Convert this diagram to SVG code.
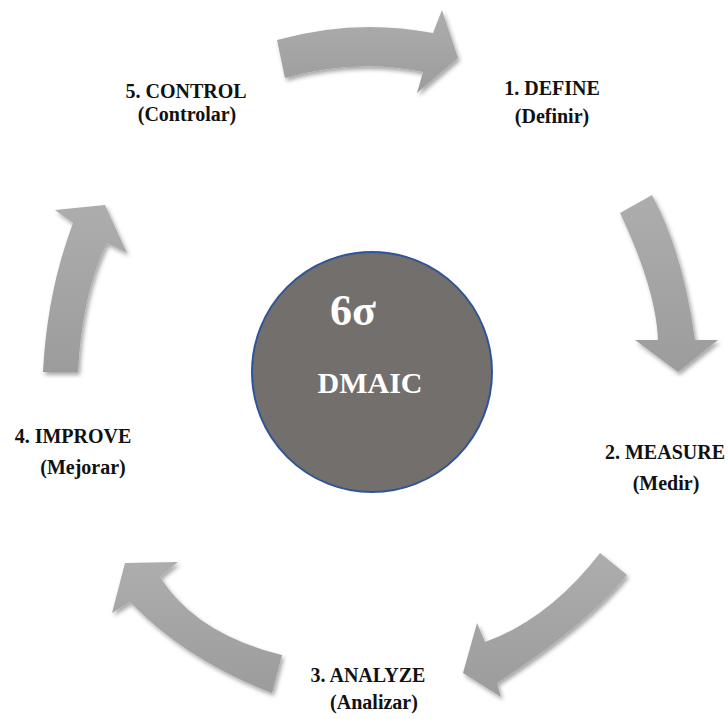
<svg xmlns="http://www.w3.org/2000/svg" width="728" height="719" viewBox="0 0 728 719">
  <style>
    .arrow { fill: url(#arrowFill); filter: url(#softShadow); }
    .label { font-family: "Liberation Serif", "DejaVu Serif", serif; font-weight: bold; font-size: 20px; fill: #111; text-anchor: middle; }
    .hub { font-family: "Liberation Serif", "DejaVu Serif", serif; font-weight: bold; fill: #fff; }
  </style>
  <defs>
    <linearGradient id="arrowFill" x1="0" y1="0" x2="0" y2="1">
      <stop offset="0" stop-color="#adadad"/>
      <stop offset="1" stop-color="#9c9c9c"/>
    </linearGradient>
    <filter id="softShadow" x="-20%" y="-20%" width="140%" height="140%">
      <feDropShadow dx="2" dy="3" stdDeviation="2" flood-color="#000" flood-opacity="0.35"/>
    </filter>
  </defs>

  <rect width="728" height="719" fill="#fff"/>

  <!-- curved block arrows running clockwise between the phases -->
  <g id="connectors">
    <path class="arrow" d="M277,40 Q355,18 433,33 L442,10 L458,58 L417,93 L423,72 Q355,58 285,78 Z"/>
    <path class="arrow" d="M620,213 L652,195 Q683,252 695,340 L718,340 L678,372 L635,340 L658,340 Q656,289 620,213 Z"/>
    <path class="arrow" d="M600,553 L627,575 Q588,624 497,683 L501,697 L463,673 L477,623 L485,642 Q549,619 600,553 Z"/>
    <path class="arrow" d="M282,655 L272,693 Q186,660 130,602 L112,613 L125,563 L178,562 L160,577 Q196,634 282,655 Z"/>
    <path class="arrow" d="M43,372 Q47,292 73,223 L55,210 L105,205 L127,253 L107,243 Q82,293 78,372 Z"/>
  </g>

  <!-- central hub -->
  <g id="hub">
    <circle cx="372" cy="372" r="120" fill="#736f6d" stroke="#2f5597" stroke-width="2"/>
    <text class="hub" x="330" y="325" font-size="44">6σ</text>
    <text class="hub" x="370" y="393" font-size="30" text-anchor="middle">DMAIC</text>
  </g>

  <g id="define">
    <text class="label" x="552" y="95">1. DEFINE</text>
    <text class="label" x="552" y="123">(Definir)</text>
  </g>

  <g id="measure">
    <text class="label" x="665" y="459">2. MEASURE</text>
    <text class="label" x="666" y="490">(Medir)</text>
  </g>

  <g id="analyze">
    <text class="label" x="368" y="682">3. ANALYZE</text>
    <text class="label" x="374" y="709">(Analizar)</text>
  </g>

  <g id="improve">
    <text class="label" x="73" y="443">4. IMPROVE</text>
    <text class="label" x="83" y="474">(Mejorar)</text>
  </g>

  <g id="control">
    <text class="label" x="186" y="98">5. CONTROL</text>
    <text class="label" x="187" y="121">(Controlar)</text>
  </g>
</svg>
